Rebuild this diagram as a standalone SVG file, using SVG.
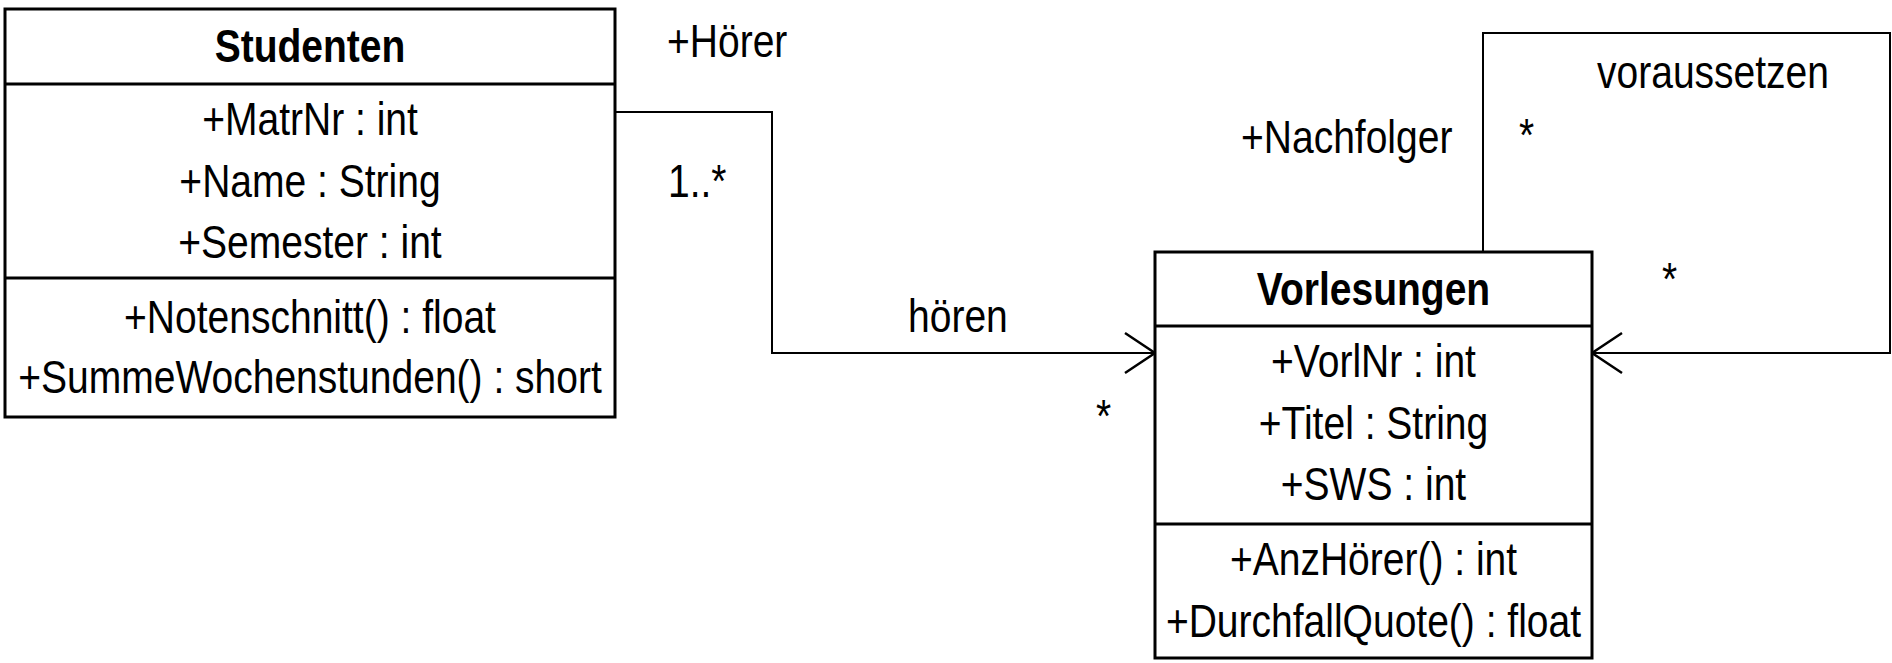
<svg xmlns="http://www.w3.org/2000/svg" width="1892" height="663" viewBox="0 0 1892 663">
<style>
text{font-family:"Liberation Sans",Arial,sans-serif;font-size:47px;fill:#000}
.c{text-anchor:middle}
.b{font-weight:bold}
.box{fill:#fff;stroke:#000;stroke-width:3}
.div{stroke:#000;stroke-width:3}
.con{fill:none;stroke:#000;stroke-width:2}
</style>
<defs>
<marker id="open" markerUnits="userSpaceOnUse" viewBox="-33 -23 36 46" refX="0" refY="0" markerWidth="36" markerHeight="46" orient="auto">
<path d="M-30,-20 L0,0 L-30,20" fill="none" stroke="#000" stroke-width="2.5"/>
</marker>
</defs>
<rect width="1892" height="663" fill="#fff"/>
<g id="connectors">
<path class="con" d="M615,112 H772 V353 H1155" marker-end="url(#open)"/>
<path class="con" d="M1483,252 V33 H1890 V353 H1592" marker-end="url(#open)"/>
<text transform="translate(667,57) scale(0.83,1)">+Hörer</text>
<text transform="translate(668,197) scale(0.83,1)">1..*</text>
<text transform="translate(908,332) scale(0.83,1)">hören</text>
<text transform="translate(1096,432) scale(0.83,1)">*</text>
<text transform="translate(1241,153) scale(0.83,1)">+Nachfolger</text>
<text transform="translate(1519,151) scale(0.83,1)">*</text>
<text transform="translate(1597,88) scale(0.83,1)">voraussetzen</text>
<text transform="translate(1662,295) scale(0.83,1)">*</text>
</g>
<g id="Studenten">
<rect class="box" x="5" y="9" width="610" height="408"/>
<line class="div" x1="5" y1="84" x2="615" y2="84"/>
<line class="div" x1="5" y1="278" x2="615" y2="278"/>
<text class="c b" transform="translate(310,62) scale(0.83,1)">Studenten</text>
<text class="c" transform="translate(310,135) scale(0.83,1)">+MatrNr : int</text>
<text class="c" transform="translate(310,197) scale(0.83,1)">+Name : String</text>
<text class="c" transform="translate(310,258) scale(0.83,1)">+Semester : int</text>
<text class="c" transform="translate(310,333) scale(0.83,1)">+Notenschnitt() : float</text>
<text class="c" transform="translate(310,393) scale(0.83,1)">+SummeWochenstunden() : short</text>
</g>
<g id="Vorlesungen">
<rect class="box" x="1155" y="252" width="437" height="406"/>
<line class="div" x1="1155" y1="326" x2="1592" y2="326"/>
<line class="div" x1="1155" y1="524" x2="1592" y2="524"/>
<text class="c b" transform="translate(1373.5,305) scale(0.83,1)">Vorlesungen</text>
<text class="c" transform="translate(1373.5,377) scale(0.83,1)">+VorlNr : int</text>
<text class="c" transform="translate(1373.5,439) scale(0.83,1)">+Titel : String</text>
<text class="c" transform="translate(1373.5,500) scale(0.83,1)">+SWS : int</text>
<text class="c" transform="translate(1373.5,575) scale(0.83,1)">+AnzHörer() : int</text>
<text class="c" transform="translate(1373.5,637) scale(0.83,1)">+DurchfallQuote() : float</text>
</g>
</svg>
